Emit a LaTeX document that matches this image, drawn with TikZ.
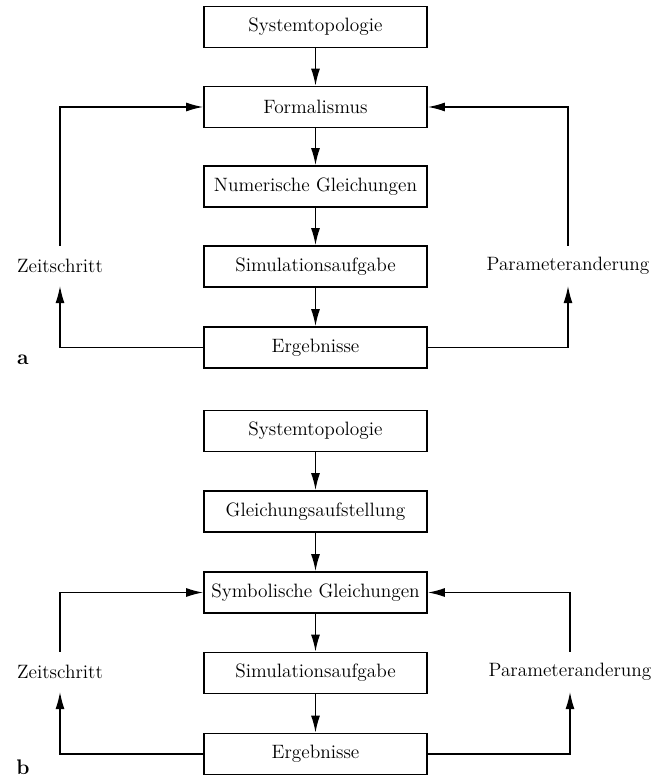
\documentclass[tikz,border=0pt]{standalone}
\usepackage{tikz}
\usetikzlibrary{arrows.meta}

\begin{document}
\begin{tikzpicture}[x=0.02cm,y=-0.02cm,line width=.7pt,
  >={Latex[length=3.4mm,width=1.8mm]},
  box/.style={draw,line width=1.1pt,minimum width=4.46cm,minimum height=.82cm,inner sep=1pt,font=\fontsize{11}{13}\selectfont},
  sidelabel/.style={minimum height=.78cm,inner sep=1pt,font=\fontsize{11}{13}\selectfont},
  tag/.style={font=\bfseries\fontsize{12}{14}\selectfont}]
\useasboundingbox (0,0) rectangle (665,776);
% part a
\node[box] (sysa) at (315.5,27) {Systemtopologie};
\node[box] (forma) at (315.5,107) {Formalismus};
\node[box] (numa) at (315.5,186.5) {Numerische Gleichungen};
\node[box] (sima) at (315.5,266.5) {Simulationsaufgabe};
\node[box] (erga) at (315.5,347.5) {Ergebnisse};
\node[sidelabel] (zeita) at (60,266) {Zeitschritt};
\node[sidelabel] (para) at (568,266) {Parameteranderung};
\node[tag] (taga) at (23,360) {a};
\draw[->] (sysa) -- (forma);
\draw[->] (forma) -- (numa);
\draw[->] (numa) -- (sima);
\draw[->] (sima) -- (erga);
\draw[->] (erga.west) -| (zeita.south);
\draw[->] (zeita.north) |- (forma.west);
\draw[->] (erga.east) -| (para.south);
\draw[->] (para.north) |- (forma.east);
% part b
\node[box] (sysb) at (315.5,431) {Systemtopologie};
\node[box] (gleib) at (315.5,511.5) {Gleichungsaufstellung};
\node[box] (symb) at (315.5,592.5) {Symbolische Gleichungen};
\node[box] (simb) at (315.5,673) {Simulationsaufgabe};
\node[box] (ergb) at (315.5,754) {Ergebnisse};
\node[sidelabel] (zeitb) at (60,672) {Zeitschritt};
\node[sidelabel] (parb) at (570,672) {Parameteranderung};
\node[tag] (tagb) at (23,767) {b};
\draw[->] (sysb) -- (gleib);
\draw[->] (gleib) -- (symb);
\draw[->] (symb) -- (simb);
\draw[->] (simb) -- (ergb);
\draw[->] (ergb.west) -| (zeitb.south);
\draw[->] (zeitb.north) |- (symb.west);
\draw[->] (ergb.east) -| (parb.south);
\draw[->] (parb.north) |- (symb.east);
\end{tikzpicture}
\end{document}
